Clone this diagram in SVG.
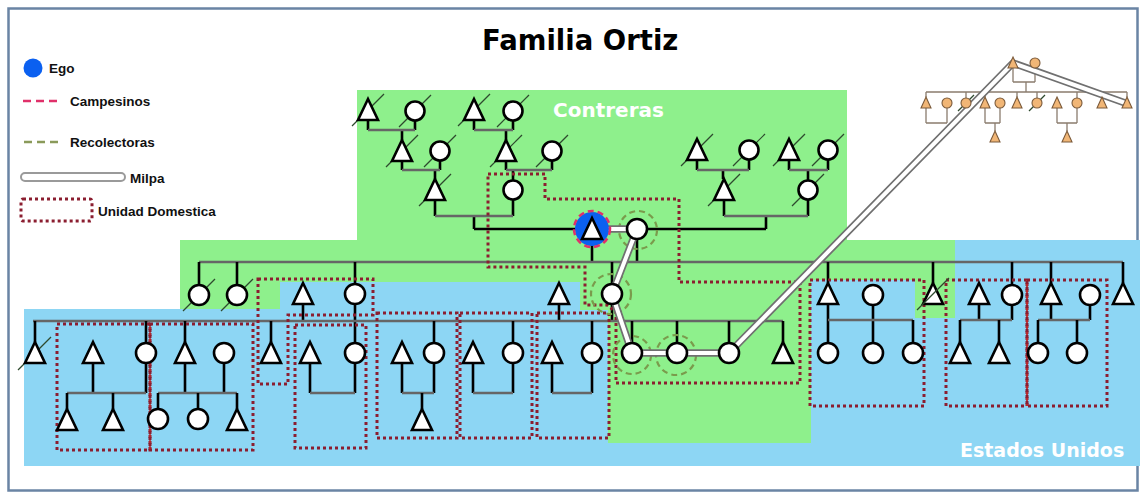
<svg xmlns="http://www.w3.org/2000/svg" width="1142" height="497" viewBox="0 0 1142 497">
<defs>
<style>
.tri,.cir{fill:#fff;stroke:#000;stroke-width:2.6}
.mt,.mc{fill:#f1b676;stroke:#7b5a3a;stroke-width:1.1}
.v{stroke:#000;stroke-width:2.6;fill:none}
.h{stroke:#666;stroke-width:2.4;fill:none}
.ml{stroke:#8a7c6e;stroke-width:1.3;fill:none}
.sl{stroke:#2e4a2e;stroke-width:1.2}
.ud{fill:none;stroke:#8b1e30;stroke-width:3;stroke-dasharray:3 3}
.rc{fill:none;stroke:#7a9b4c;stroke-width:2.2;stroke-dasharray:6 4}
.lbl{font-family:"Liberation Sans",Arial,sans-serif;font-weight:bold;font-size:13.5px;fill:#111}
.reg{font-family:"DejaVu Sans",sans-serif;font-weight:bold;fill:#fff}
</style>
<path id="t" d="M0,-11 L10,10 L-10,10 Z"/>
<path id="st" d="M0,-6 L5,5 L-5,5 Z"/>
</defs>
<rect x="0" y="0" width="1142" height="497" fill="#fff"/>
<rect x="8.5" y="8.5" width="1129" height="482" fill="none" stroke="#6a84a4" stroke-width="2.5"/>
<g id="backgrounds">
<polygon points="24,309 280,309 280,282 580,282 580,310 608,310 608,443 811,443 811,280 915,280 915,318 955,318 955,240 1140,240 1140,466 24,466" fill="#8dd6f4"/>
<polygon points="357,90 847,90 847,240 955,240 955,318 915,318 915,280 811,280 811,443 608,443 608,310 580,310 580,282 280,282 280,309 180,309 180,240 357,240" fill="#8ef08c"/>
<text class="reg" x="553" y="117" font-size="20">Contreras</text>
<text class="reg" x="960" y="457" font-size="19">Estados Unidos</text>
</g>
<text x="482" y="50" font-family="DejaVu Sans,sans-serif" font-weight="bold" font-size="27.5" fill="#000">Familia Ortiz</text>
<g id="legend">
<circle cx="33" cy="68" r="9.5" fill="#0b60f0"/>
<text class="lbl" x="49" y="73">Ego</text>
<line x1="23" y1="101" x2="59" y2="101" stroke="#e0306a" stroke-width="2.5" stroke-dasharray="8 5"/>
<text class="lbl" x="70" y="106">Campesinos</text>
<line x1="24" y1="142" x2="60" y2="142" stroke="#8a9a5a" stroke-width="2.5" stroke-dasharray="8 5"/>
<text class="lbl" x="70" y="147">Recolectoras</text>
<rect x="21" y="173" width="104" height="8" rx="4" fill="#fff" stroke="#9a9a9a" stroke-width="2"/>
<text class="lbl" x="130" y="183">Milpa</text>
<rect x="21" y="199" width="71" height="22" rx="2" class="ud"/>
<text class="lbl" x="98" y="216">Unidad Domestica</text>
</g>
<g id="connectors">
<path class="v" d="M368,121V130M415,121V130M402,130V140M402,161V170M440,161V170M435,170V179M474,121V130M513,121V130M506,130V140M506,161V170M552,161V170M513,170V180M435,200V216M513,200V216M474,216V229M474,229H592"/>
<path class="h" d="M368,130H415M474,130H513M402,170H440M506,170H552M435,216H513"/>
<path class="v" d="M697,160V170M749,160V170M723,170V179M789,160V170M828,160V170M808,170V180M724,200V216M808,200V216M766,216V229M637,229H766"/>
<path class="h" d="M697,170H749M789,170H828M724,216H808"/>
<path class="v" d="M592,239V262M637,239V262"/>
<path class="h" d="M199,262H1123"/>
<path class="v" d="M199,262V285M237,262V285M355,262V284M612,262V284M828,262V283M933,262V283M1012,262V285M1051,262V283M1123,262V283"/>
<path class="v" d="M303,304V321M355,304V343M559,304V321M612,304V321M828,304V343M873,305V343M979,304V320M1012,305V320M1051,304V320M1090,305V320"/>
<path class="h" d="M33,321H783M828,320H913M960,320H1012M1038,320H1090"/>
<path class="v" d="M35,321V342M146,321V343M185,321V342M271,321V342M434,321V343M513,321V343M592,321V343M632,321V343M677,321V343M729,321V343M783,321V342M913,320V343M960,320V342M999,320V342M1038,320V343M1077,320V343"/>
<path class="v" d="M93,363V393M146,363V393M185,363V393M224,363V393M310,363V393M355,363V393M402,363V393M434,363V393M473,363V393M513,363V393M552,363V393M592,363V393"/>
<path class="h" d="M67,393H146M158,393H237M310,393H355M402,393H434M473,393H513M552,393H592"/>
<path class="v" d="M67,393V409M113,393V409M158,393V409M198,393V409M237,393V409M422,393V409"/>
<path class="ml" d="M1013,68V82M1035,68V82M1013,82H1035M1026,82V92M926,92H1127M926,92V97M966,92V98M985,92V97M1017,92V97M1037,92V98M1077,92V98M1102,92V97M1127,92V97M926,108V123M947,108V123M926,123H947M985,108V123M1000,108V123M985,123H1000M995,123V131M1057,108V123M1077,108V123M1057,123H1077M1067,123V131"/>
</g>
<g id="households">
<rect class="ud" x="57" y="324" width="93" height="126"/>
<line x1="150" y1="324" x2="150" y2="450" stroke="#c0282a" stroke-width="1.5"/>
<rect class="ud" x="150" y="324" width="103" height="126"/>
<polygon class="ud" points="258,279 373,279 373,315 288,315 288,384 258,384"/>
<rect class="ud" x="295" y="325" width="71" height="123"/>
<rect class="ud" x="377" y="313" width="80" height="125"/>
<rect class="ud" x="460" y="313" width="72" height="125"/>
<rect class="ud" x="537" y="313" width="72" height="125"/>
<polygon class="ud" points="488,174 545,174 545,199 679,199 679,282 800,282 800,383 616,383 616,312 607,305 585,305 585,267 488,267"/>
<rect class="ud" x="810" y="280" width="114" height="126"/>
<rect class="ud" x="946" y="280" width="81" height="126"/>
<line x1="1027" y1="280" x2="1027" y2="406" stroke="#c0282a" stroke-width="1.8"/>
<rect class="ud" x="1027" y="280" width="80" height="126"/>
</g>
<g id="recolectoras">
<circle class="rc" cx="638" cy="230" r="19"/>
<circle class="rc" cx="611" cy="294" r="20"/>
<circle class="rc" cx="632" cy="355" r="19"/>
<circle class="rc" cx="676" cy="355" r="20"/>
</g>
<g id="milpa">
<path d="M591,229 L637,229 L612,294 L632,353 L677,353 L729,353 L1013,63 L1128,104" fill="none" stroke="#707070" stroke-width="7.5" stroke-linejoin="round"/>
<path d="M591,229 L637,229 L612,294 L632,353 L677,353 L729,353 L1013,63 L1128,104" fill="none" stroke="#fff" stroke-width="4" stroke-linejoin="round"/>
</g>
<g id="n-ego"><circle cx="592" cy="229" r="17" fill="#0b60f0"/><circle cx="592" cy="229" r="18" fill="none" stroke="#e0306a" stroke-width="2.5" stroke-dasharray="6 4"/><use href="#t" class="tri" x="592" y="229"/></g>
<g id="n-wife"><circle class="cir" cx="637" cy="229" r="10"/></g>
<g id="n-gg1"><line class="sl" x1="352" y1="126" x2="384" y2="94"/><use href="#t" class="tri" x="368" y="110"/></g>
<g id="n-gg2"><line class="sl" x1="399" y1="127" x2="431" y2="95"/><circle class="cir" cx="415" cy="111" r="9.5"/></g>
<g id="n-gg3"><line class="sl" x1="458" y1="126" x2="490" y2="94"/><use href="#t" class="tri" x="474" y="110"/></g>
<g id="n-gg4"><line class="sl" x1="497" y1="127" x2="529" y2="95"/><circle class="cir" cx="513" cy="111" r="9.5"/></g>
<g id="n-g1"><line class="sl" x1="386" y1="167" x2="418" y2="135"/><use href="#t" class="tri" x="402" y="151"/></g>
<g id="n-g2"><line class="sl" x1="424" y1="167" x2="456" y2="135"/><circle class="cir" cx="440" cy="151" r="9.5"/></g>
<g id="n-g3"><line class="sl" x1="490" y1="167" x2="522" y2="135"/><use href="#t" class="tri" x="506" y="151"/></g>
<g id="n-g4"><line class="sl" x1="536" y1="167" x2="568" y2="135"/><circle class="cir" cx="552" cy="151" r="9.5"/></g>
<g id="n-f"><line class="sl" x1="419" y1="206" x2="451" y2="174"/><use href="#t" class="tri" x="435" y="190"/></g>
<g id="n-m"><circle class="cir" cx="513" cy="190" r="9.5"/></g>
<g id="n-wg1"><line class="sl" x1="681" y1="166" x2="713" y2="134"/><use href="#t" class="tri" x="697" y="150"/></g>
<g id="n-wg2"><line class="sl" x1="733" y1="166" x2="765" y2="134"/><circle class="cir" cx="749" cy="150" r="9.5"/></g>
<g id="n-wg3"><line class="sl" x1="773" y1="166" x2="805" y2="134"/><use href="#t" class="tri" x="789" y="150"/></g>
<g id="n-wg4"><line class="sl" x1="812" y1="166" x2="844" y2="134"/><circle class="cir" cx="828" cy="150" r="9.5"/></g>
<g id="n-wf"><line class="sl" x1="708" y1="206" x2="740" y2="174"/><use href="#t" class="tri" x="724" y="190"/></g>
<g id="n-wm"><line class="sl" x1="792" y1="206" x2="824" y2="174"/><circle class="cir" cx="808" cy="190" r="9.5"/></g>
<g id="n-a1"><line class="sl" x1="183" y1="311" x2="215" y2="279"/><circle class="cir" cx="199" cy="295" r="10"/></g>
<g id="n-a2"><line class="sl" x1="221" y1="311" x2="253" y2="279"/><circle class="cir" cx="237" cy="295" r="10"/></g>
<g id="n-a3"><use href="#t" class="tri" x="303" y="294"/></g>
<g id="n-a4"><circle class="cir" cx="355" cy="294" r="10"/></g>
<g id="n-a5"><use href="#t" class="tri" x="559" y="294"/></g>
<g id="n-a6"><circle class="cir" cx="612" cy="294" r="10"/></g>
<g id="n-a7"><use href="#t" class="tri" x="828" y="294"/></g>
<g id="n-a8"><circle class="cir" cx="873" cy="295" r="10"/></g>
<g id="n-a9"><use href="#t" class="tri" x="933" y="294"/><line class="sl" x1="917" y1="310" x2="949" y2="278"/></g>
<g id="n-a10"><use href="#t" class="tri" x="979" y="294"/></g>
<g id="n-a11"><circle class="cir" cx="1012" cy="295" r="10"/></g>
<g id="n-a12"><use href="#t" class="tri" x="1051" y="294"/></g>
<g id="n-a13"><circle class="cir" cx="1090" cy="295" r="10"/></g>
<g id="n-a14"><use href="#t" class="tri" x="1123" y="294"/></g>
<g id="n-b1"><line class="sl" x1="18" y1="370" x2="51" y2="337"/><use href="#t" class="tri" x="35" y="353"/></g>
<g id="n-b2"><use href="#t" class="tri" x="93" y="353"/></g>
<g id="n-b3"><circle class="cir" cx="146" cy="353" r="10"/></g>
<g id="n-b4"><use href="#t" class="tri" x="185" y="353"/></g>
<g id="n-b5"><circle class="cir" cx="224" cy="353" r="10"/></g>
<g id="n-b6"><use href="#t" class="tri" x="271" y="353"/></g>
<g id="n-b7"><use href="#t" class="tri" x="310" y="353"/></g>
<g id="n-b8"><circle class="cir" cx="355" cy="353" r="10"/></g>
<g id="n-b9"><use href="#t" class="tri" x="402" y="353"/></g>
<g id="n-b10"><circle class="cir" cx="434" cy="353" r="10"/></g>
<g id="n-b11"><use href="#t" class="tri" x="473" y="353"/></g>
<g id="n-b12"><circle class="cir" cx="513" cy="353" r="10"/></g>
<g id="n-b13"><use href="#t" class="tri" x="552" y="353"/></g>
<g id="n-b14"><circle class="cir" cx="592" cy="353" r="10"/></g>
<g id="n-b15"><circle class="cir" cx="632" cy="353" r="10"/></g>
<g id="n-b16"><circle class="cir" cx="677" cy="353" r="10"/></g>
<g id="n-b17"><circle class="cir" cx="729" cy="353" r="10"/></g>
<g id="n-b18"><use href="#t" class="tri" x="783" y="353"/></g>
<g id="n-b19"><circle class="cir" cx="828" cy="353" r="10"/></g>
<g id="n-b20"><circle class="cir" cx="873" cy="353" r="10"/></g>
<g id="n-b21"><circle class="cir" cx="913" cy="353" r="10"/></g>
<g id="n-b22"><use href="#t" class="tri" x="960" y="353"/></g>
<g id="n-b23"><use href="#t" class="tri" x="999" y="353"/></g>
<g id="n-b24"><circle class="cir" cx="1038" cy="353" r="10"/></g>
<g id="n-b25"><circle class="cir" cx="1077" cy="353" r="10"/></g>
<g id="n-c1"><use href="#t" class="tri" x="67" y="420"/></g>
<g id="n-c2"><use href="#t" class="tri" x="113" y="420"/></g>
<g id="n-c3"><circle class="cir" cx="158" cy="419" r="10"/></g>
<g id="n-c4"><circle class="cir" cx="198" cy="419" r="10"/></g>
<g id="n-c5"><use href="#t" class="tri" x="237" y="420"/></g>
<g id="n-c6"><use href="#t" class="tri" x="422" y="420"/></g>
<g id="n-s1"><use href="#st" class="mt" x="1013" y="63"/></g>
<g id="n-s2"><circle class="mc" cx="1035" cy="63" r="5"/></g>
<g id="n-s3"><use href="#st" class="mt" x="926" y="103"/></g>
<g id="n-s4"><circle class="mc" cx="947" cy="103" r="5"/></g>
<g id="n-s5"><line class="sl" x1="958" y1="111" x2="974" y2="95"/><circle class="mc" cx="966" cy="103" r="5"/></g>
<g id="n-s6"><use href="#st" class="mt" x="985" y="103"/></g>
<g id="n-s7"><circle class="mc" cx="1000" cy="103" r="5"/></g>
<g id="n-s8"><use href="#st" class="mt" x="1017" y="103"/></g>
<g id="n-s9"><line class="sl" x1="1029" y1="111" x2="1045" y2="95"/><circle class="mc" cx="1037" cy="103" r="5"/></g>
<g id="n-s10"><use href="#st" class="mt" x="1057" y="103"/></g>
<g id="n-s11"><circle class="mc" cx="1077" cy="103" r="5"/></g>
<g id="n-s12"><use href="#st" class="mt" x="1102" y="103"/></g>
<g id="n-s13"><use href="#st" class="mt" x="1127" y="103"/></g>
<g id="n-s14"><use href="#st" class="mt" x="995" y="137"/></g>
<g id="n-s15"><use href="#st" class="mt" x="1067" y="137"/></g>
</svg>
